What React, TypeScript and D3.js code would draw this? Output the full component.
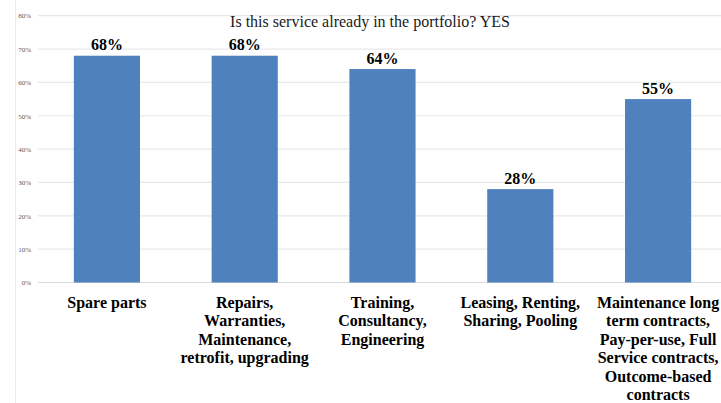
import React, { useRef, useEffect } from "react";
import * as d3 from "d3";

const title = "Is this service already in the portfolio? YES";

const categories = ["spare", "repairs", "training", "leasing", "maintenance"];

const categoryLines = [
  ["Spare parts"],
  ["Repairs,", "Warranties,", "Maintenance,", "retrofit, upgrading"],
  ["Training,", "Consultancy,", "Engineering"],
  ["Leasing, Renting,", "Sharing, Pooling"],
  ["Maintenance long", "term contracts,", "Pay-per-use, Full", "Service contracts,", "Outcome-based", "contracts"],
];

const values = [0.68, 0.68, 0.64, 0.28, 0.55];

const yTicks = [0, 0.1, 0.2, 0.3, 0.4, 0.5, 0.6, 0.7, 0.8];

const App = () => {
  const chartRef = useRef(null);

  useEffect(() => {
    if (!chartRef.current) return;

    const width = 721;
    const height = 403;
    const margin = { top: 15.7, left: 38, bottom: 282.5 };

    const svg = d3.select(chartRef.current);
    svg.selectAll("*").remove();

    const xScale = d3.scaleBand()
      .domain(categories)
      .range([margin.left, 727])
      .paddingInner(0.52)
      .paddingOuter(0.26);

    const yScale = d3.scaleLinear()
      .domain([0, 0.8])
      .range([margin.bottom, margin.top]);

    svg.append("rect")
      .attr("width", width)
      .attr("height", height)
      .attr("fill", "#ffffff");

    // faint chart border on the left
    svg.append("line")
      .attr("x1", 15.5)
      .attr("x2", 15.5)
      .attr("y1", 0)
      .attr("y2", height)
      .attr("stroke", "#ececec")
      .attr("stroke-width", 1);

    // gridlines
    svg.selectAll(".grid")
      .data(yTicks)
      .enter().append("line")
      .attr("class", "grid")
      .attr("x1", margin.left)
      .attr("x2", width)
      .attr("y1", (d) => yScale(d))
      .attr("y2", (d) => yScale(d))
      .attr("stroke", (d) => (d === 0 ? "#d9d9d9" : "#e8e8e8"))
      .attr("stroke-width", 1.2);

    const yAxis = svg.append("g")
      .attr("transform", `translate(${margin.left - 7},0)`)
      .call(d3.axisLeft(yScale).tickValues(yTicks).tickFormat(d3.format(".0%")).tickSize(0));
    yAxis.select(".domain").remove();
    yAxis.selectAll("text")
      .attr("x", 0)
      .style("font-family", "'Liberation Serif', 'Times New Roman', serif")
      .style("font-size", "7px")
      .style("fill", "#595959");

    svg.append("text")
      .attr("x", 370)
      .attr("y", 27)
      .attr("text-anchor", "middle")
      .style("font-family", "'Liberation Serif', 'Times New Roman', serif")
      .style("font-size", "16px")
      .style("fill", "#1a1a1a")
      .text(title);

    svg.selectAll(".bar")
      .data(values)
      .enter().append("rect")
      .attr("class", "bar")
      .attr("x", (d, i) => xScale(categories[i]))
      .attr("y", (d) => yScale(d))
      .attr("width", xScale.bandwidth())
      .attr("height", (d) => yScale(0) - yScale(d))
      .attr("fill", "#4f81bd");

    svg.selectAll(".value-label")
      .data(values)
      .enter().append("text")
      .attr("class", "value-label")
      .attr("x", (d, i) => xScale(categories[i]) + xScale.bandwidth() / 2)
      .attr("y", (d) => yScale(d) - 5.5)
      .attr("text-anchor", "middle")
      .style("font-family", "'Liberation Serif', 'Times New Roman', serif")
      .style("font-size", "16px")
      .style("font-weight", "bold")
      .style("fill", "#000")
      .text((d) => d3.format(".0%")(d));

    const labels = svg.selectAll(".cat-label")
      .data(categoryLines)
      .enter().append("text")
      .attr("class", "cat-label")
      .attr("text-anchor", "middle")
      .style("font-family", "'Liberation Serif', 'Times New Roman', serif")
      .style("font-size", "16px")
      .style("font-weight", "bold")
      .style("fill", "#000");

    labels.each(function (lines, i) {
      const cx = xScale(categories[i]) + xScale.bandwidth() / 2;
      d3.select(this).selectAll("tspan")
        .data(lines)
        .enter().append("tspan")
        .attr("x", cx)
        .attr("y", (d, j) => 308 + j * 18.4)
        .text((d) => d);
    });
  }, []);

  return (
    <svg
      ref={chartRef}
      width={721}
      height={403}
      style={{ position: "absolute", left: 0, top: 0 }}
    ></svg>
  );
};

export default App;
